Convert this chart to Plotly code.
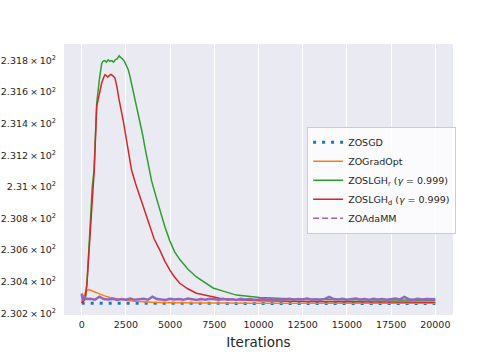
import plotly.graph_objects as go

# Iterations / loss values
x_zosgd = [0, 5000, 10000, 15000, 20000]
y_zosgd = [230.263, 230.262, 230.262, 230.262, 230.262]

x_gradopt = [0, 100, 200, 300, 400, 500, 700, 1000, 1300, 1600, 2000, 2500, 3000,
             3500, 4000, 5000, 6000, 8000, 10000, 15000, 20000]
y_gradopt = [230.27, 230.30, 230.33, 230.345, 230.35, 230.346, 230.336, 230.32, 230.31,
             230.30, 230.29, 230.282, 230.276, 230.272, 230.27, 230.267, 230.266,
             230.265, 230.264, 230.264, 230.264]

x_slgh_r = [0, 200, 300, 450, 600, 700, 850, 1000, 1130, 1200, 1300, 1400, 1500, 1600,
            1700, 1800, 1900, 2000, 2120, 2200, 2300, 2420, 2540, 2640, 2730, 2870, 3010,
            3150, 3290, 3430, 3570, 3710, 3850, 3950, 4200, 4420, 4700, 4980, 5250, 5550,
            6000, 6490, 7000, 7430, 8000, 8750, 10060, 12000, 15000, 20000]
y_slgh_r = [230.265, 230.29, 230.39, 230.685, 231.0, 231.107, 231.53, 231.68, 231.78,
            231.795, 231.80, 231.79, 231.805, 231.795, 231.80, 231.79, 231.805, 231.81,
            231.83, 231.82, 231.812, 231.795, 231.76, 231.74, 231.70, 231.63, 231.55,
            231.49, 231.42, 231.34, 231.255, 231.18, 231.107, 231.04, 230.94, 230.85,
            230.75, 230.66, 230.59, 230.54, 230.48, 230.43, 230.39, 230.36, 230.34,
            230.315, 230.30, 230.29, 230.285, 230.283]

x_slgh_d = [0, 200, 300, 470, 620, 710, 850, 1000, 1130, 1230, 1315, 1400, 1480, 1560,
            1650, 1750, 1880, 2000, 2100, 2350, 2600, 2820, 3050, 3290, 3550, 3850, 4100,
            4420, 4700, 4980, 5250, 5550, 6000, 6490, 7100, 7800, 8800, 10060, 13000, 20000]
y_slgh_d = [230.265, 230.29, 230.39, 230.685, 231.0, 231.107, 231.51, 231.60, 231.656,
            231.69, 231.71, 231.705, 231.695, 231.705, 231.713, 231.705, 231.69, 231.63,
            231.56, 231.42, 231.26, 231.107, 231.02, 230.94, 230.84, 230.75, 230.67,
            230.60, 230.53, 230.475, 230.43, 230.39, 230.355, 230.327, 230.31, 230.295,
            230.286, 230.28, 230.274, 230.27]

x_adamm = [0, 60, 120, 250, 500, 750, 1000, 1250, 1500, 1750, 2000, 2250, 2500, 2750,
           3000, 3250, 3500, 3750, 4000, 4250, 4500, 4750, 5000, 5250, 5500, 5750, 6000,
           6250, 6500, 6750, 7000, 7250, 7500, 7750, 8000, 8250, 8500, 8750, 9000, 9250,
           9500, 9750, 10000, 10250, 10500, 10750, 11000, 11250, 11500, 11750, 12000,
           12250, 12500, 12750, 13000, 13250, 13500, 13750, 14000, 14250, 14500, 14750,
           15000, 15250, 15500, 15750, 16000, 16250, 16500, 16750, 17000, 17250, 17500,
           17750, 18000, 18250, 18500, 18750, 19000, 19250, 19500, 19750, 20000]
y_adamm = [230.325, 230.28, 230.31, 230.29, 230.292, 230.286, 230.305, 230.29, 230.287,
           230.291, 230.284, 230.29, 230.286, 230.293, 230.285, 230.289, 230.292, 230.286,
           230.305, 230.29, 230.288, 230.284, 230.291, 230.287, 230.29, 230.285, 230.293,
           230.287, 230.284, 230.29, 230.286, 230.292, 230.288, 230.285, 230.29, 230.286,
           230.289, 230.284, 230.291, 230.287, 230.29, 230.285, 230.288, 230.292, 230.286,
           230.29, 230.284, 230.289, 230.287, 230.291, 230.285, 230.29, 230.287, 230.293,
           230.286, 230.289, 230.285, 230.291, 230.304, 230.29, 230.287, 230.292, 230.286,
           230.29, 230.294, 230.287, 230.29, 230.285, 230.292, 230.288, 230.291, 230.286,
           230.29, 230.294, 230.288, 230.303, 230.289, 230.286, 230.292, 230.287, 230.29,
           230.288, 230.289]

y_ticks = [230.2, 230.4, 230.6, 230.8, 231.0, 231.2, 231.4, 231.6, 231.8]
y_ticktext = ["2.302\u2009×\u200910<sup>2</sup>", "2.304\u2009×\u200910<sup>2</sup>",
              "2.306\u2009×\u200910<sup>2</sup>", "2.308\u2009×\u200910<sup>2</sup>",
              "2.31\u2009×\u200910<sup>2</sup>", "2.312\u2009×\u200910<sup>2</sup>",
              "2.314\u2009×\u200910<sup>2</sup>", "2.316\u2009×\u200910<sup>2</sup>",
              "2.318\u2009×\u200910<sup>2</sup>"]
x_ticks = [0, 2500, 5000, 7500, 10000, 12500, 15000, 17500, 20000]
x_ticktext = ["0", "2500", "5000", "7500", "10000", "12500", "15000", "17500", "20000"]

fig = go.Figure()

fig.add_trace(go.Scatter(x=x_zosgd, y=y_zosgd, mode="lines", name="ZOSGD",
                         line=dict(color="#1f77b4", width=3, dash="3px,6px")))
fig.add_trace(go.Scatter(x=x_gradopt, y=y_gradopt, mode="lines", name="ZOGradOpt",
                         line=dict(color="#ff7f0e", width=1.5)))
fig.add_trace(go.Scatter(x=x_slgh_r, y=y_slgh_r, mode="lines",
                         name="ZOSLGH<sub>r</sub> (<i>γ</i> = 0.999)",
                         line=dict(color="#2ca02c", width=1.5)))
fig.add_trace(go.Scatter(x=x_slgh_d, y=y_slgh_d, mode="lines",
                         name="ZOSLGH<sub>d</sub> (<i>γ</i> = 0.999)",
                         line=dict(color="#d62728", width=1.5)))
# the noisy dashed line reads as solid in the plot; dashed sample only in the legend
fig.add_trace(go.Scatter(x=x_adamm, y=y_adamm, mode="lines", showlegend=False,
                         line=dict(color="#9467bd", width=2.5)))
fig.add_trace(go.Scatter(x=[None], y=[None], mode="lines", name="ZOAdaMM",
                         line=dict(color="#9467bd", width=1.5, dash="6px,3px")))

fig.update_layout(
    width=504, height=360,
    margin=dict(l=64, r=51, t=44, b=45),
    paper_bgcolor="white",
    plot_bgcolor="#eaeaf2",
    font=dict(family="DejaVu Sans", size=9.5, color="#262626"),
    showlegend=True,
    legend=dict(x=0.625, y=0.695, xanchor="left", yanchor="top",
                bgcolor="rgba(255,255,255,0.8)", bordercolor="#cccccc", borderwidth=1,
                font=dict(size=9.5), itemwidth=30, tracegroupgap=0),
    xaxis=dict(range=[-1000, 21000], tickvals=x_ticks, ticktext=x_ticktext,
               showgrid=True, gridcolor="white", gridwidth=1, zeroline=False,
               ticks="outside", ticklen=1, tickcolor="white", automargin=False,
               title=dict(text="Iterations", font=dict(size=13.5), standoff=8)),
    yaxis=dict(range=[230.189, 231.905], tickvals=y_ticks, ticktext=y_ticktext,
               showgrid=False, zeroline=False, ticks="outside", ticklen=5,
               tickcolor="white", automargin=False),
)

# drop the page's default body margin so the figure sits at the window origin
fig.write_html("out.html", config={"displayModeBar": False},
               post_script="document.body.style.margin = '0';")
